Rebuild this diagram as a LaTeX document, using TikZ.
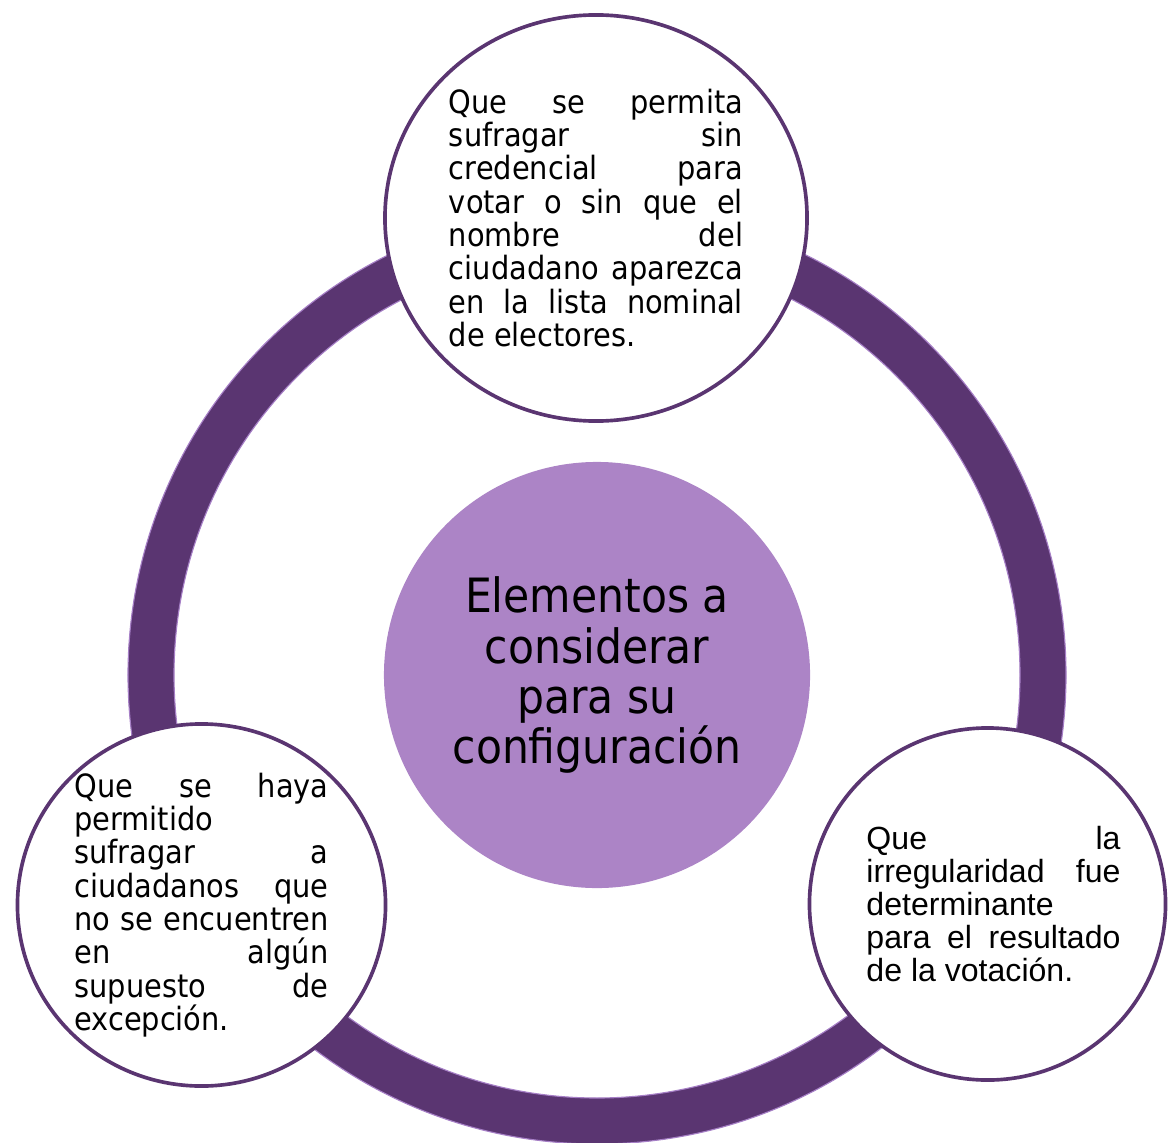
\documentclass[tikz,border=0pt]{standalone}
\usepackage{fontspec}
\usetikzlibrary{shapes.geometric}
\newfontfamily\condfont{DejaVu Sans Condensed}
\newfontfamily\arialfont{Liberation Sans}
\definecolor{ringpurple}{HTML}{5A3571}
\definecolor{edgepurple}{HTML}{A67FC6}
\definecolor{hubpurple}{HTML}{AC84C6}
\newcommand{\wrow}[1]{\makebox[7.35cm][s]{#1}}
\newcommand{\nrow}[1]{\makebox[6.35cm][s]{#1}}

\begin{document}
\begin{tikzpicture}[x=0.025cm, y=-0.025cm,
  ring/.style={draw=ringpurple, line width=1.15cm},
  ringedge/.style={draw=edgepurple, line width=0.8pt},
  hub/.style={circle, fill=hubpurple, minimum size=10.65cm, inner sep=0pt, align=center,
    font=\condfont\fontsize{33.6pt}{35.6pt}\selectfont},
  leaf/.style={ellipse, draw=ringpurple, line width=2.6pt, fill=white, inner sep=0pt},
  leaftext/.style={align=left, inner sep=0pt, font=\condfont\fontsize{22.8pt}{23.7pt}\selectfont}]

\useasboundingbox (0,0) rectangle (1168,1142);

% big ring behind everything
\coordinate (mid) at (597,675);
\draw [ring] (mid) circle (446);
\draw [ringedge] (mid) circle (469);
\draw [ringedge] (mid) circle (423);

\node [hub] (hub) at (mid) {Elementos a\\considerar\\para su\\configuración};

% the three outer circles
\node [leaf, minimum width=10.55cm, minimum height=10.15cm] (top) at (596,218) {};
\node [leaf, minimum width=9.2cm, minimum height=9.05cm] (left) at (201.5,905) {};
\node [leaf, minimum width=8.9cm, minimum height=8.8cm] (right) at (987.5,904) {};

\node [leaftext] (toptext) at (top) {\wrow{Que se permita}\\
  \wrow{sufragar sin}\\
  \wrow{credencial para}\\
  \wrow{votar o sin que el}\\
  \wrow{nombre del}\\
  \wrow{ciudadano aparezca}\\
  \wrow{en la lista nominal}\\
  de electores.};

\node [leaftext] (lefttext) at (left) {\nrow{Que se haya}\\
  permitido\\
  \nrow{sufragar a}\\
  \nrow{ciudadanos que}\\
  \nrow{no se encuentren}\\
  \nrow{en algún}\\
  \nrow{supuesto de}\\
  excepción.};

\node [leaftext, font=\arialfont\fontsize{22.8pt}{23.5pt}\selectfont] (righttext)
  at ([xshift=0.15cm]right.center) {\nrow{Que la}\\
  \nrow{irregularidad fue}\\
  determinante\\
  \nrow{para el resultado}\\
  de la votación.};

\end{tikzpicture}
\end{document}
